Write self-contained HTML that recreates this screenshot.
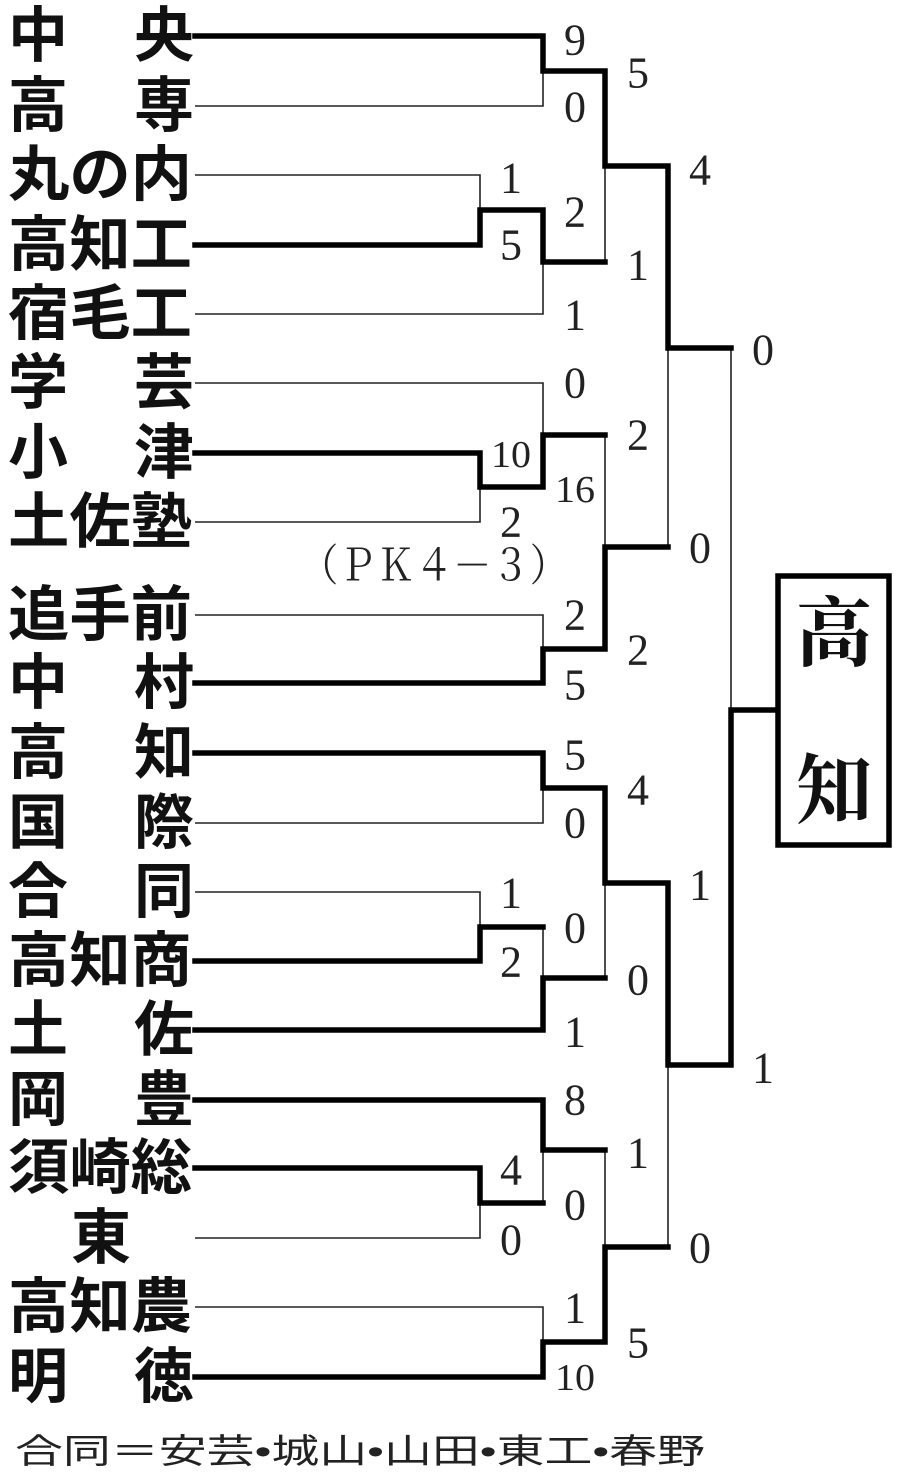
<!DOCTYPE html>
<html><head><meta charset="utf-8"><style>
html,body{margin:0;padding:0;background:#fff;}
svg{display:block}
.t{font-family:"Liberation Sans","Noto Sans CJK JP",sans-serif;font-weight:bold;font-size:60px;fill:#111;}
.s{font-family:"Liberation Serif","Noto Serif CJK SC",serif;font-size:44px;fill:#222;}
.f{font-family:"Liberation Sans","Noto Sans CJK JP",sans-serif;font-size:34px;fill:#222;}
</style></head><body>
<svg width="900" height="1477" viewBox="0 0 900 1477" xmlns="http://www.w3.org/2000/svg">
<g class="t" dominant-baseline="central">
<text x="8" y="36">中</text><text x="134" y="36">央</text>
<text x="8" y="106">高</text><text x="134" y="106">専</text>
<text x="8" y="175" textLength="184" lengthAdjust="spacingAndGlyphs">丸の内</text>
<text x="8" y="245" textLength="184" lengthAdjust="spacingAndGlyphs">高知工</text>
<text x="8" y="314" textLength="184" lengthAdjust="spacingAndGlyphs">宿毛工</text>
<text x="8" y="383">学</text><text x="134" y="383">芸</text>
<text x="8" y="453">小</text><text x="134" y="453">津</text>
<text x="8" y="522" textLength="184" lengthAdjust="spacingAndGlyphs">土佐塾</text>
<text x="8" y="615" textLength="184" lengthAdjust="spacingAndGlyphs">追手前</text>
<text x="8" y="683">中</text><text x="134" y="683">村</text>
<text x="8" y="753">高</text><text x="134" y="753">知</text>
<text x="8" y="823">国</text><text x="134" y="823">際</text>
<text x="8" y="892">合</text><text x="134" y="892">同</text>
<text x="8" y="961" textLength="184" lengthAdjust="spacingAndGlyphs">高知商</text>
<text x="8" y="1030">土</text><text x="134" y="1030">佐</text>
<text x="8" y="1100">岡</text><text x="134" y="1100">豊</text>
<text x="8" y="1168" textLength="184" lengthAdjust="spacingAndGlyphs">須崎総</text>
<text x="71" y="1238">東</text>
<text x="8" y="1307" textLength="184" lengthAdjust="spacingAndGlyphs">高知農</text>
<text x="8" y="1377">明</text><text x="134" y="1377">徳</text>
</g>
<g stroke="#222" stroke-width="1.6" fill="none">
<polyline points="195,106 543,106 543,71"/>
<polyline points="195,175 480,175 480,210"/>
<polyline points="195,314 543,314 543,262"/>
<polyline points="605,166 605,262"/>
<polyline points="668,348 668,547"/>
<polyline points="195,383 543,383 543,435"/>
<polyline points="195,522 480,522 480,487"/>
<polyline points="605,435 605,547"/>
<polyline points="195,615 543,615 543,649"/>
<polyline points="731,348 731,710"/>
<polyline points="195,823 543,823 543,788"/>
<polyline points="195,892 480,892 480,927"/>
<polyline points="543,927 543,978"/>
<polyline points="605,883 605,978"/>
<polyline points="668,1065 668,1247"/>
<polyline points="543,1150 543,1203"/>
<polyline points="195,1238 480,1238 480,1203"/>
<polyline points="605,1150 605,1247"/>
<polyline points="195,1307 543,1307 543,1342"/>
</g>
<g stroke="#000" stroke-width="5.5" fill="none" stroke-linejoin="miter" stroke-linecap="square">
<polyline points="195,36 543,36 543,71 605,71 605,166 668,166 668,348 731,348"/>
<polyline points="195,245 480,245 480,210 543,210 543,262 605,262"/>
<polyline points="195,453 480,453 480,487 543,487 543,435 605,435"/>
<polyline points="195,683 543,683 543,649 605,649 605,547 668,547"/>
<polyline points="195,753 543,753 543,788 605,788 605,883 668,883 668,1065 731,1065 731,710 775,710"/>
<polyline points="195,961 480,961 480,927 543,927"/>
<polyline points="195,1030 543,1030 543,978 605,978"/>
<polyline points="195,1100 543,1100 543,1150 605,1150"/>
<polyline points="195,1168 480,1168 480,1203 543,1203"/>
<polyline points="195,1377 543,1377 543,1342 605,1342 605,1247 668,1247"/>
<rect x="778" y="576" width="111" height="269"/>
</g>
<g font-family="Liberation Serif,'Noto Serif CJK SC',serif" font-size="76" font-weight="bold" fill="#111" text-anchor="middle" dominant-baseline="central">
<text x="834" y="635">高</text><text x="834" y="792">知</text>
</g>
<g class="s" text-anchor="middle" dominant-baseline="central">
<text x="575" y="40">9</text><text x="575" y="107">0</text><text x="638" y="73">5</text>
<text x="511" y="178">1</text><text x="575" y="212">2</text><text x="511" y="245">5</text>
<text x="700" y="170">4</text><text x="638" y="265">1</text><text x="575" y="315">1</text>
<text x="763" y="350">0</text><text x="575" y="383">0</text>
<text x="511" y="455" font-size="38" textLength="40" lengthAdjust="spacingAndGlyphs">10</text>
<text x="638" y="435">2</text>
<text x="575" y="490" font-size="38" textLength="40" lengthAdjust="spacingAndGlyphs">16</text>
<text x="511" y="522">2</text>
<text x="700" y="548">0</text><text x="575" y="615">2</text><text x="638" y="650">2</text>
<text x="575" y="685">5</text><text x="575" y="755">5</text><text x="638" y="790">4</text>
<text x="575" y="823">0</text><text x="700" y="885">1</text><text x="511" y="893">1</text>
<text x="575" y="928">0</text><text x="511" y="962">2</text><text x="638" y="980">0</text>
<text x="575" y="1032">1</text><text x="763" y="1068">1</text><text x="575" y="1100">8</text>
<text x="638" y="1153">1</text><text x="511" y="1170">4</text><text x="575" y="1205">0</text>
<text x="511" y="1240">0</text><text x="700" y="1248">0</text><text x="575" y="1308">1</text>
<text x="638" y="1343">5</text>
<text x="575" y="1378" font-size="38" textLength="40" lengthAdjust="spacingAndGlyphs">10</text>
</g>
<text class="s" x="300" y="566" font-size="38" dominant-baseline="central" textLength="268" lengthAdjust="spacingAndGlyphs">（ＰＫ４－３）</text>
<text class="f" x="15" y="1452" dominant-baseline="central" textLength="690" lengthAdjust="spacingAndGlyphs">合同＝安芸•城山•山田•東工•春野</text>
</svg>
</body></html>
